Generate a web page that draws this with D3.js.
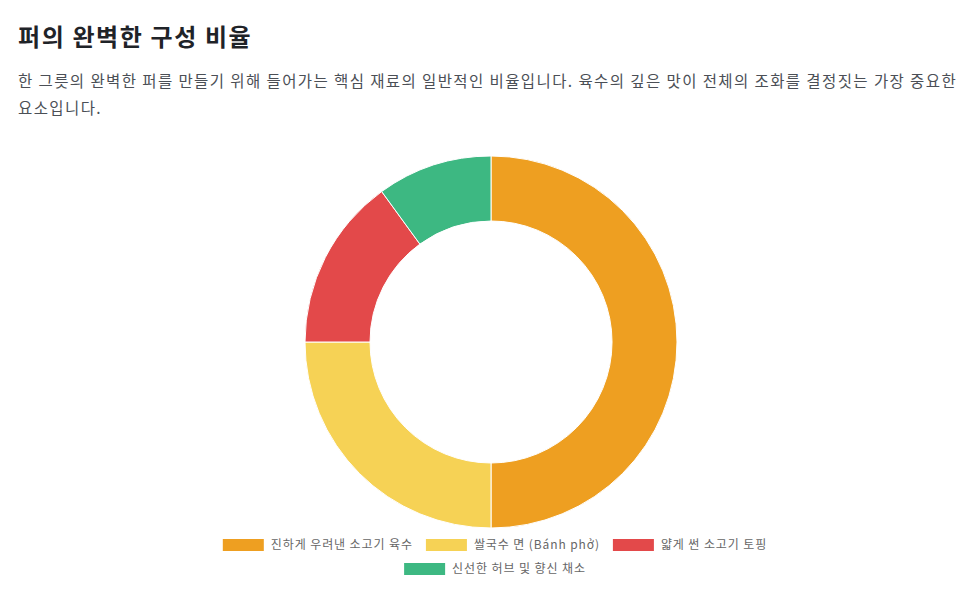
<!DOCTYPE html>
<html>
<head>
<meta charset="utf-8">
<script src="https://cdn.jsdelivr.net/npm/d3@7"></script>
<style>
  body { margin: 0; background: #fff; font-family: "Noto Sans CJK KR", "Noto Sans", sans-serif; }
</style>
</head>
<body>
<div id="chart"></div>
<script>
// pho ingredient ratios
let labels = ["진하게 우려낸 소고기 육수", "쌀국수 면 (Bánh phở)", "얇게 썬 소고기 토핑", "신선한 허브 및 향신 채소"];
let values = [50, 25, 15, 10];
let colors = ["#EE9F21", "#F6D255", "#E3494A", "#3DB882"];

let width = 975;
let height = 598;
let center = {x: 491, y: 342};
let outer = 186;
let inner = 121;

let svg = d3.select("#chart")
    .append("svg")
    .attr("width", width)
    .attr("height", height)
    .style("font-family", '"Noto Sans CJK KR", "Noto Sans", sans-serif');

// title + description
svg.append("text")
    .attr("x", 18)
    .attr("y", 46)
    .attr("font-size", "24px")
    .attr("font-weight", "bold")
    .attr("letter-spacing", "1.6px")
    .attr("fill", "#1f2328")
    .text("퍼의 완벽한 구성 비율");

let desc = svg.append("text")
    .attr("font-size", "15.5px")
    .attr("letter-spacing", "1.4px")
    .attr("fill", "#4b4f56");
desc.append("tspan").attr("x", 18).attr("y", 87)
    .text("한 그릇의 완벽한 퍼를 만들기 위해 들어가는 핵심 재료의 일반적인 비율입니다. 육수의 깊은 맛이 전체의 조화를 결정짓는 가장 중요한");
desc.append("tspan").attr("x", 18).attr("y", 114)
    .text("요소입니다.");

// doughnut
let pie = d3.pie().sort(null).value(d => d);
let arc = d3.arc().innerRadius(inner).outerRadius(outer);

svg.append("g")
    .attr("transform", `translate(${center.x}, ${center.y})`)
    .selectAll("path")
    .data(pie(values))
    .join("path")
        .attr("d", arc)
        .attr("fill", (d, i) => colors[i])
        .attr("stroke", "#fff")
        .attr("stroke-width", 1);

// legend, 3 items on first row, 1 on second
let rows = [[0, 1, 2], [3]];
let rowY = [545, 569];
let legend = svg.append("g").attr("font-size", "12px").attr("letter-spacing", "0.9px");

rows.forEach((row, r) => {
    let g = legend.append("g");
    let x = 0;
    row.forEach(i => {
        let item = g.append("g").attr("transform", `translate(${x}, 0)`);
        item.append("rect")
            .attr("x", 0)
            .attr("y", rowY[r] - 6)
            .attr("width", 41)
            .attr("height", 12)
            .attr("fill", colors[i]);
        let t = item.append("text")
            .attr("x", 48)
            .attr("y", rowY[r])
            .attr("dy", "0.35em")
            .attr("fill", "#666")
            .text(labels[i]);
        x += 48 + t.node().getComputedTextLength() + 13;
    });
    let total = x - 13;
    g.attr("transform", `translate(${center.x + 4 - total / 2}, 0)`);
});
</script>
</body>
</html>
